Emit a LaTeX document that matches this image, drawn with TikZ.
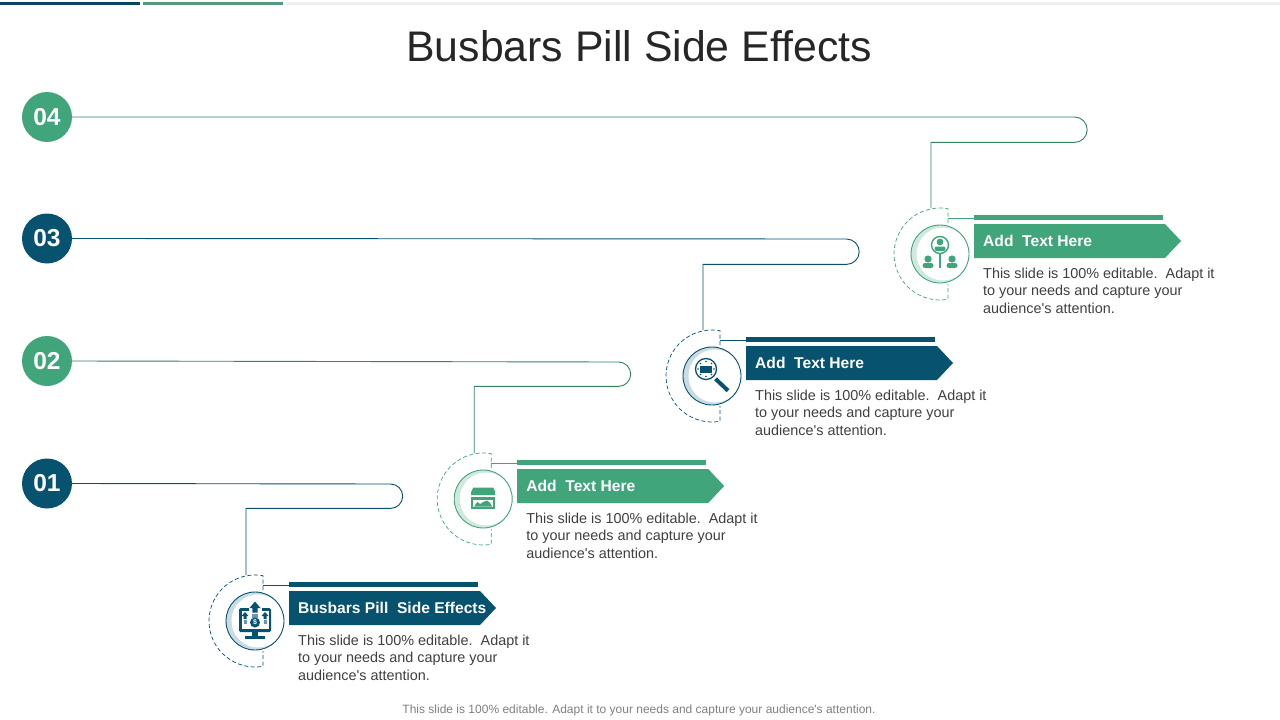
\documentclass[tikz,border=0pt]{standalone}
\usepackage{fontspec}
\setmainfont{Liberation Sans}[Ligatures=TeXOff]
\definecolor{busblue}{HTML}{07526F}
\definecolor{busgreen}{HTML}{41A57B}
\definecolor{bluetint}{HTML}{C9DCE4}
\definecolor{greentint}{HTML}{CFE9DE}
\definecolor{bodygrey}{HTML}{404040}
\tikzset{
  badge/.style={circle,minimum size=50pt,inner sep=0pt,text=white,font=\fontsize{24.5}{25}\selectfont\bfseries},
  conn/.style={line width=.9pt},
  dashring/.style={line width=.7pt,dash pattern=on 4pt off 2.5pt},
  headtext/.style={anchor=west,inner sep=0pt,text=white,font=\fontsize{15.6}{16}\selectfont\bfseries},
  bodytext/.style={anchor=west,inner sep=0pt,align=left,text=bodygrey,font=\fontsize{14.4}{17.5}\selectfont},
}
% id, cx, cy, colour, tint, heading, icon
\newcommand{\stepunit}[7]{%
\begin{scope}[shift={(#2,#3)}]
  \coordinate (top#1) at (-9,-46);
  \fill[#5] (0,0) circle[radius=29];
  \fill[white] (3,0) circle[radius=26.5];
  \node[circle,draw=#4,line width=.9pt,minimum size=58pt,inner sep=0pt] (ring#1) at (0,0) {};
  \draw[#4,dashring] (8,-31) -- (8,-45.3) arc[start angle=-80,end angle=-280,radius=46] -- (8,30);
  \draw[#4,conn] (8,-36) -- (34,-36);
  \fill[#4] (34,-39) rectangle (223,-34);
  \fill[#4] (34,-30) -- (225,-30) -- (241,-13) -- (225,4) -- (34,4) -- cycle;
  \node[headtext] (head#1) at (43,-12.6) {#6};
  \node[bodytext] (body#1) at (43,36.8) {This slide is 100\% editable.\ \ Adapt it\\to your needs and capture your\\audience's attention.};
  \begin{scope}[#4]#7\end{scope}
\end{scope}}
\begin{document}
\begin{tikzpicture}[x=1pt,y=-1pt]
\useasboundingbox (0,0) rectangle (1280,720);
\fill[white] (0,0) rectangle (1280,720);
\fill[busblue!85!black] (0,2) rectangle (140,4.5);
\fill[busgreen!70!gray] (143,2) rectangle (283,4.5);
\fill[black!6] (286,2) rectangle (1280,4.5);
\node[inner sep=0pt,text=black!85,font=\fontsize{42.8}{44}\selectfont] (title) at (639,46) {Busbars Pill Side Effects};
\node[inner sep=0pt,text=black!50,font=\fontsize{12}{12}\selectfont] (footer) at (639,710) {This slide is 100\% editable. Adapt it to your needs and capture your audience's attention.};

\node[badge,fill=busgreen] (n4) at (47,117) {04};
\node[badge,fill=busblue]  (n3) at (47,238.5) {03};
\node[badge,fill=busgreen] (n2) at (47,361) {02};
\node[badge,fill=busblue]  (n1) at (47,483.5) {01};

\stepunit{1}{255}{621}{busblue}{bluetint}{Busbars Pill\ \ Side Effects}{%
  \fill[rounded corners=1.5pt] (-16,-13) rectangle (16,11);
  \fill[white] (-13.5,-10.5) rectangle (13.5,8);
  \fill (-3,11) rectangle (3,15);
  \fill (-10,15) rectangle (10,17.5);
  \fill[white] (-6.5,-15) rectangle (6.5,-9);
  \fill (0,-19.5) -- (5.5,-13) -- (2.7,-13) -- (2.7,-8.5) -- (-2.7,-8.5) -- (-2.7,-13) -- (-5.5,-13) -- cycle;
  \fill[busblue!60] (-2.7,-7.5) rectangle (2.7,-3);
  \fill (-10,-9) -- (-6.5,-5) -- (-8.5,-5) -- (-8.5,-2) -- (-11.5,-2) -- (-11.5,-5) -- (-13.5,-5) -- cycle;
  \fill[busblue!60] (-11.5,-1.2) rectangle (-8.5,3);
  \fill (10,-9) -- (13.5,-5) -- (11.5,-5) -- (11.5,-2) -- (8.5,-2) -- (8.5,-5) -- (6.5,-5) -- cycle;
  \fill[busblue!60] (8.5,-1.2) rectangle (11.5,3);
  \fill (0,1.5) circle[radius=5];
  \node[inner sep=0pt,text=white,font=\fontsize{7}{7}\selectfont\bfseries] (dollar) at (0,1.5) {\$};
}
\stepunit{2}{483.2}{499}{busgreen}{greentint}{Add\ \ Text Here}{%
  \fill (-10,-11.5) -- (10,-11.5) -- (12,-7) -- (12,-4) -- (-12,-4) -- (-12,-7) -- cycle;
  \fill (-12,-2) rectangle (12,10);
  \fill[white] (-10,0.5) rectangle (10,7.5);
  \fill (-9,7.5) -- (-6,3) -- (-3,5) -- (0,3) -- (4,1.5) -- (7,4) -- (9,7.5) -- cycle;
}
\stepunit{3}{712}{376}{busblue}{bluetint}{Add\ \ Text Here}{%
  \draw[line width=1.3pt] (-6,-7) circle[radius=10.5];
  \draw[line width=4pt] (3.5,2.8) -- (16,14.7);
  \fill (-12,-10.5) rectangle (0,-3.5);
  \fill (-6,-14.5) circle[radius=.9] (-6,0.5) circle[radius=.9] (-14,-7) circle[radius=.9] (2,-7) circle[radius=.9]
        (-11.5,-12.5) circle[radius=.9] (-0.5,-12.5) circle[radius=.9] (-11.5,-1.5) circle[radius=.9] (-0.5,-1.5) circle[radius=.9];
}
\stepunit{4}{940}{254}{busgreen}{greentint}{Add\ \ Text Here}{%
  \draw[line width=1.4pt] (0,-9) circle[radius=8.5];
  \fill (0,-12) circle[radius=3.4];
  \fill[rounded corners=2pt] (-5.5,-3) -- (-5.5,-7.5) -- (5.5,-7.5) -- (5.5,-3) -- cycle;
  \fill (-1,0) rectangle (1,14);
  \fill (-12,5) circle[radius=3.6];
  \fill[rounded corners=2.5pt] (-17.5,14) -- (-17.5,9) -- (-6.5,9) -- (-6.5,14) -- cycle;
  \fill (12,5) circle[radius=3.6];
  \fill[rounded corners=2.5pt] (6.5,14) -- (6.5,9) -- (17.5,9) -- (17.5,14) -- cycle;
}

\coordinate (t1) at (390.5,484);
\coordinate (t2) at (618.5,362);
\coordinate (t3) at (846.5,239);
\coordinate (t4) at (1074.5,117);
\draw[busblue,conn] (n1.east) -- (t1) arc[start angle=-90,end angle=90,radius=12.2] -- (top1 |- 0,508.4) -- (top1);
\draw[busgreen!80!black,conn] (n2.east) -- (t2) arc[start angle=-90,end angle=90,radius=12.2] -- (top2 |- 0,386.4) -- (top2);
\draw[busblue,conn] (n3.east) -- (t3) arc[start angle=-90,end angle=90,radius=12.7] -- (top3 |- 0,264.4) -- (top3);
\draw[busgreen!80!black,conn] (n4.east) -- (t4) arc[start angle=-90,end angle=90,radius=12.7] -- (top4 |- 0,142.4) -- (top4);
\end{tikzpicture}
\end{document}
